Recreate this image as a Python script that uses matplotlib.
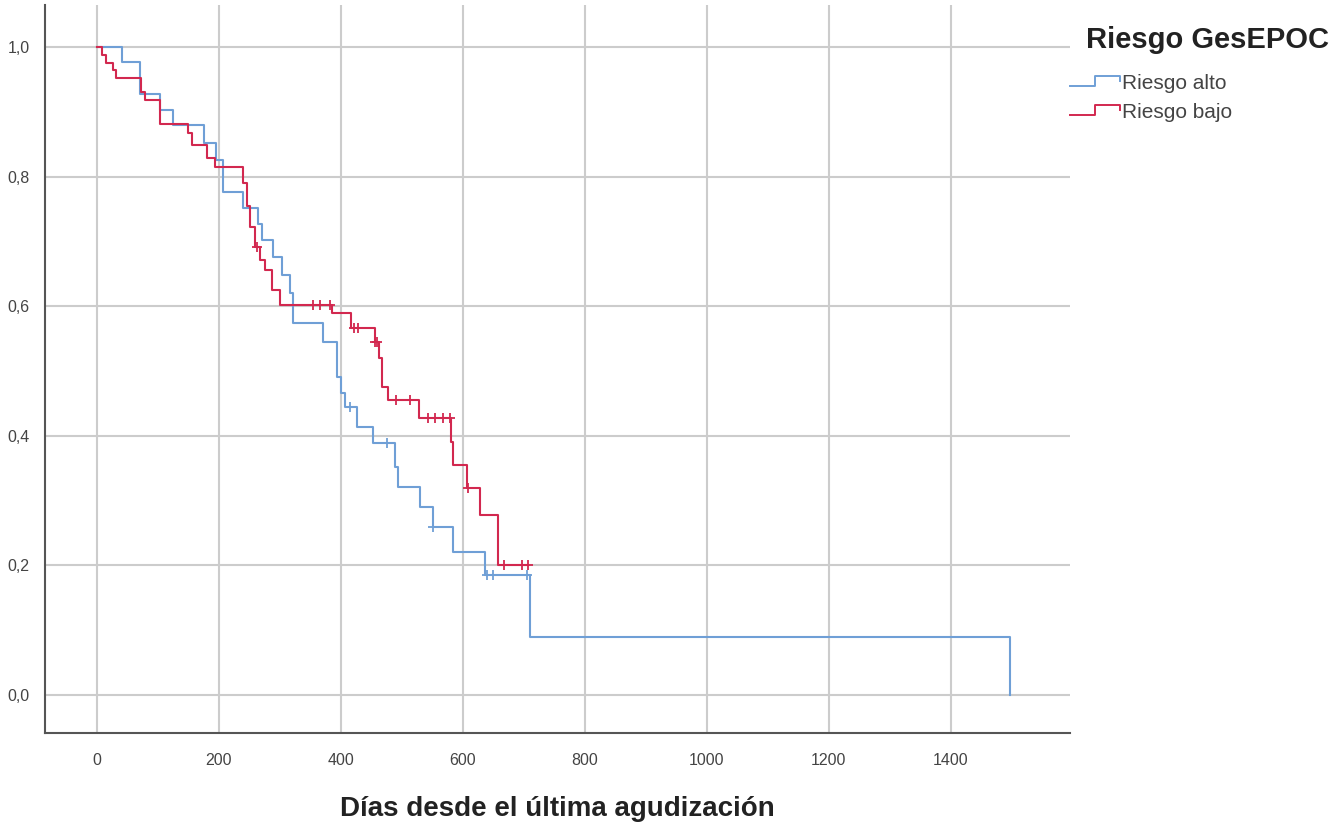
import numpy as np
import matplotlib
matplotlib.use("Agg")
import matplotlib.pyplot as plt
from matplotlib.lines import Line2D
from matplotlib.legend_handler import HandlerBase
from matplotlib.ticker import FuncFormatter

plt.rcParams['font.family'] = ['Liberation Sans', 'DejaVu Sans']

# Kaplan-Meier steps (days, survival after step)
alto_t = [0, 41, 70, 103, 124, 175, 196, 207, 240, 264, 270, 289, 303, 316, 322,
          370, 393, 400, 406, 426, 453, 489, 494, 530, 551, 584, 636, 710, 1497]
alto_s = [1.0, 0.977, 0.928, 0.903, 0.880, 0.852, 0.826, 0.777, 0.751, 0.727, 0.702,
          0.676, 0.648, 0.620, 0.574, 0.545, 0.491, 0.466, 0.445, 0.414, 0.389, 0.352,
          0.321, 0.290, 0.260, 0.221, 0.185, 0.090, 0.0]
alto_cens_t = [415, 475, 551, 639, 649, 705]
alto_cens_s = [0.445, 0.389, 0.260, 0.185, 0.185, 0.185]

bajo_t = [0, 8, 15, 27, 31, 72, 79, 103, 150, 156, 180, 194, 240, 246, 251, 260,
          268, 276, 287, 301, 385, 417, 456, 463, 468, 477, 528, 580, 584, 606,
          628, 657, 707]
bajo_s = [1.0, 0.988, 0.976, 0.964, 0.952, 0.930, 0.918, 0.882, 0.867, 0.849, 0.829,
          0.815, 0.790, 0.754, 0.723, 0.692, 0.671, 0.656, 0.625, 0.602, 0.589, 0.566,
          0.545, 0.520, 0.476, 0.455, 0.427, 0.391, 0.355, 0.319, 0.278, 0.200, 0.200]
bajo_cens_t = [262, 354, 366, 382, 421, 428, 456, 460, 491, 513, 543, 554, 567, 579,
               609, 667, 697, 707]
bajo_cens_s = [0.692, 0.602, 0.602, 0.602, 0.566, 0.566, 0.545, 0.545, 0.455, 0.455,
               0.427, 0.427, 0.427, 0.427, 0.319, 0.200, 0.200, 0.200]

groups = ['Riesgo alto', 'Riesgo bajo']
colors = ['#6f9fd6', '#d2284f']

xticks = [0, 200, 400, 600, 800, 1000, 1200, 1400]
yticks = [0.0, 0.2, 0.4, 0.6, 0.8, 1.0]


class StepHandler(HandlerBase):
    # little step icon like the SPSS legend
    def create_artists(self, legend, orig_handle, xdescent, ydescent,
                       width, height, fontsize, trans):
        xs = np.array([0.0, 0.5, 0.5, 1.0, 1.0]) * width - xdescent
        ys = np.array([0.2, 0.2, 0.9, 0.9, 0.55]) * height - ydescent
        ln = Line2D(xs, ys, color=orig_handle.get_color(), lw=1.4)
        ln.set_transform(trans)
        return [ln]


fig = plt.figure(figsize=(13.44, 8.23), dpi=100)
ax = fig.add_axes([0.0335, 0.109, 0.7625, 0.885])

for sp in ['top', 'right']:
    ax.spines[sp].set_visible(False)
for sp in ['left', 'bottom']:
    ax.spines[sp].set_color('#555555')
    ax.spines[sp].set_linewidth(1.5)

ax.grid(True, color='#cccccc', lw=1.5)
ax.set_axisbelow(True)

handles = []
for t, s, ct, cs, c, lab in [(alto_t, alto_s, alto_cens_t, alto_cens_s, colors[0], groups[0]),
                             (bajo_t, bajo_s, bajo_cens_t, bajo_cens_s, colors[1], groups[1])]:
    h, = ax.step(t, s, where='post', color=c, lw=1.5, label=lab)
    ax.plot(ct, cs, ls='none', marker='+', ms=6.5, mew=1.3, color=c)
    handles.append(h)

ax.set_xlim(-85, 1595)
ax.set_ylim(-0.059, 1.065)
ax.set_xticks(xticks)
ax.set_yticks(yticks)
ax.yaxis.set_major_formatter(FuncFormatter(lambda v, p: ('%.1f' % v).replace('.', ',')))
ax.tick_params(length=0, labelsize=11.5, labelcolor='#444444')
ax.tick_params(axis='x', pad=14)
ax.tick_params(axis='y', pad=11)

ax.set_xlabel('Días desde el última agudización', fontsize=20, fontweight='bold',
              color='#222222', labelpad=20)

fig.text(1086 / 1344, 1 - 40 / 823, 'Riesgo GesEPOC', fontsize=21, fontweight='bold',
         color='#222222', ha='left', va='center')
fig.legend(handles, groups, loc='upper left', bbox_to_anchor=(1060 / 1344, 1 - 64 / 823),
           frameon=False, fontsize=15, labelcolor='#444444', handlelength=2.4,
           handletextpad=0.1, labelspacing=0.45, borderpad=0,
           handler_map={Line2D: StepHandler()})

fig.savefig('out.png', dpi=100, facecolor='white')
